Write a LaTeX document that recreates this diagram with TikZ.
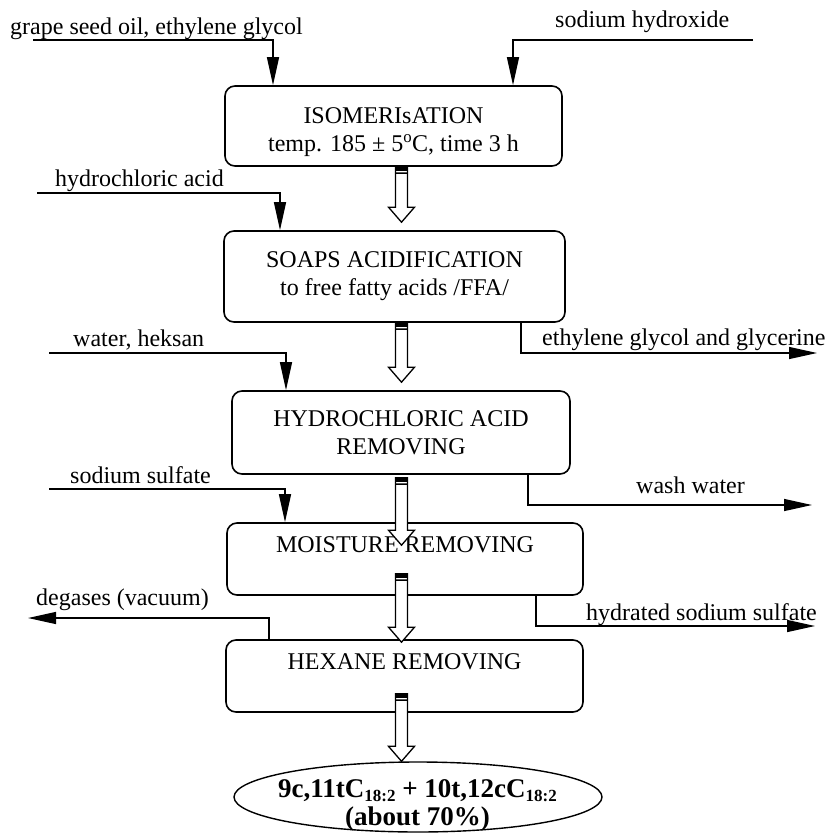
\documentclass[tikz,border=0pt]{standalone}
\usepackage{fontspec}
\setmainfont{Liberation Serif}
\usetikzlibrary{arrows.meta,calc,shapes.geometric}
\newcommand\lsub[1]{\raisebox{-4pt}{\fontsize{17}{17}\selectfont #1}}
\newcommand\hollowarr[4]{%
  \draw[hollow] let \p1=($(#1.south -| ax)+(0,#2)$), \p2=($(#3.north -| ax)+(0,#4)$) in
    (\x1-6pt,\y1) -- (\x1-6pt,\y2+15pt) -- (\x1-13pt,\y2+15pt) -- (\x1,\y2)
    -- (\x1+13pt,\y2+15pt) -- (\x1+6pt,\y2+15pt) -- (\x1+6pt,\y1) -- cycle;
  \fill let \p1=($(#1.south -| ax)+(0,#2)$) in
    (\x1-6pt,\y1) rectangle (\x1+6pt,\y1-4pt)
    (\x1-6pt,\y1-5.5pt) rectangle (\x1+6pt,\y1-7pt);
}
\begin{document}
\begin{tikzpicture}[x=1pt,y=-1pt,
  box/.style={draw, line width=1.6pt, rounded corners=10pt, align=center, inner sep=0pt,
    font=\fontsize{24}{28}\selectfont},
  lbl/.style={anchor=base west, inner sep=0pt, font=\fontsize{24}{28}\selectfont},
  flow/.style={line width=1.3pt, -{Triangle[length=28pt,width=12pt]}},
  hollow/.style={draw, line width=1.3pt, fill=white, line join=miter},
  big/.style={anchor=base, inner sep=0pt, font=\bfseries\fontsize{27}{30}\selectfont}]
\useasboundingbox (0,0) rectangle (824,840);

% process boxes
\node[box, minimum width=337pt, minimum height=80pt] (iso) at (393.5,126)
  {\rule{0pt}{29pt}ISOMERIsATION\\temp. 185 ± 5\textsuperscript{o}C, time 3 h};
\node[box, minimum width=341pt, minimum height=91pt] (soap) at (394.5,276.5)
  {SOAPS ACIDIFICATION\\to free fatty acids /FFA/};
\node[box, minimum width=338pt, minimum height=83pt] (hcl) at (401,432.5)
  {HYDROCHLORIC ACID\\REMOVING};
\node[box, minimum width=356pt, minimum height=72pt] (moist) at (405,559)
  {MOISTURE REMOVING\\\mbox{}};
\node[box, minimum width=357pt, minimum height=72pt] (hex) at (404.5,676)
  {HEXANE REMOVING\\\mbox{}};
\node[draw, ellipse, line width=1.4pt, minimum width=368pt, minimum height=70pt, inner sep=0pt]
  (ell) at (418,797) {};
\node[big] (ell1) at (417.5,797) {9c,11tC\lsub{18:2} + 10t,12cC\lsub{18:2}};
\node[big] (ell2) at (417.5,825) {(about 70\%)};

% labels
\node[lbl] (tgrape) at (10,35) {grape seed oil, ethylene glycol};
\node[lbl] (tnaoh) at (555,28) {sodium hydroxide};
\node[lbl] (thcl) at (55,186) {hydrochloric acid};
\node[lbl] (twater) at (73,346) {water, heksan};
\node[lbl] (tsulf) at (70,483) {sodium sulfate};
\node[lbl] (tdeg) at (36,605) {degases (vacuum)};
\node[lbl] (teg) at (542,345) {ethylene glycol and glycerine};
\node[lbl] (twash) at (636,493) {wash water};
\node[lbl] (thyd) at (586,620) {hydrated sodium sulfate};

% coordinates of free ends and bends
\coordinate (ax) at (401.5,0);
\coordinate (g0) at (33,40);   \coordinate (g1) at (273,40);
\coordinate (n0) at (753,40);  \coordinate (n1) at (513,40);
\coordinate (h0) at (37,193);  \coordinate (h1) at (280,193);
\coordinate (w0) at (49,353);  \coordinate (w1) at (286,353);
\coordinate (s0) at (49,489);  \coordinate (s1) at (285,489);
\coordinate (e1) at (521,353); \coordinate (e2) at (817,353);
\coordinate (ww1) at (528,505); \coordinate (ww2) at (812,505);
\coordinate (y1) at (536,626); \coordinate (y2) at (815,626);
\coordinate (d1) at (269,618); \coordinate (d2) at (28,618);

% input arrows
\draw[flow] (g0) -- (g1) -- (g1 |- iso.north);
\draw[flow] (n0) -- (n1) -- (n1 |- iso.north);
\draw[flow] (h0) -- (h1) -- (h1 |- soap.north);
\draw[flow] (w0) -- (w1) -- (w1 |- hcl.north);
\draw[flow] (s0) -- (s1) -- (s1 |- moist.north);

% output arrows
\draw[flow] (e1 |- soap.south) -- (e1) -- (e2);
\draw[flow] (ww1 |- hcl.south) -- (ww1) -- (ww2);
\draw[flow] (y1 |- moist.south) -- (y1) -- (y2);
\draw[flow] (d1 |- hex.north) -- (d1) -- (d2);

% hollow main-flow arrows
\hollowarr{iso}{0}{soap}{-8}
\hollowarr{soap}{0}{hcl}{-8}
\hollowarr{hcl}{3}{moist}{23}
\hollowarr{moist}{-22}{hex}{3}
\hollowarr{hex}{-19}{ell}{0}
\end{tikzpicture}
\end{document}
